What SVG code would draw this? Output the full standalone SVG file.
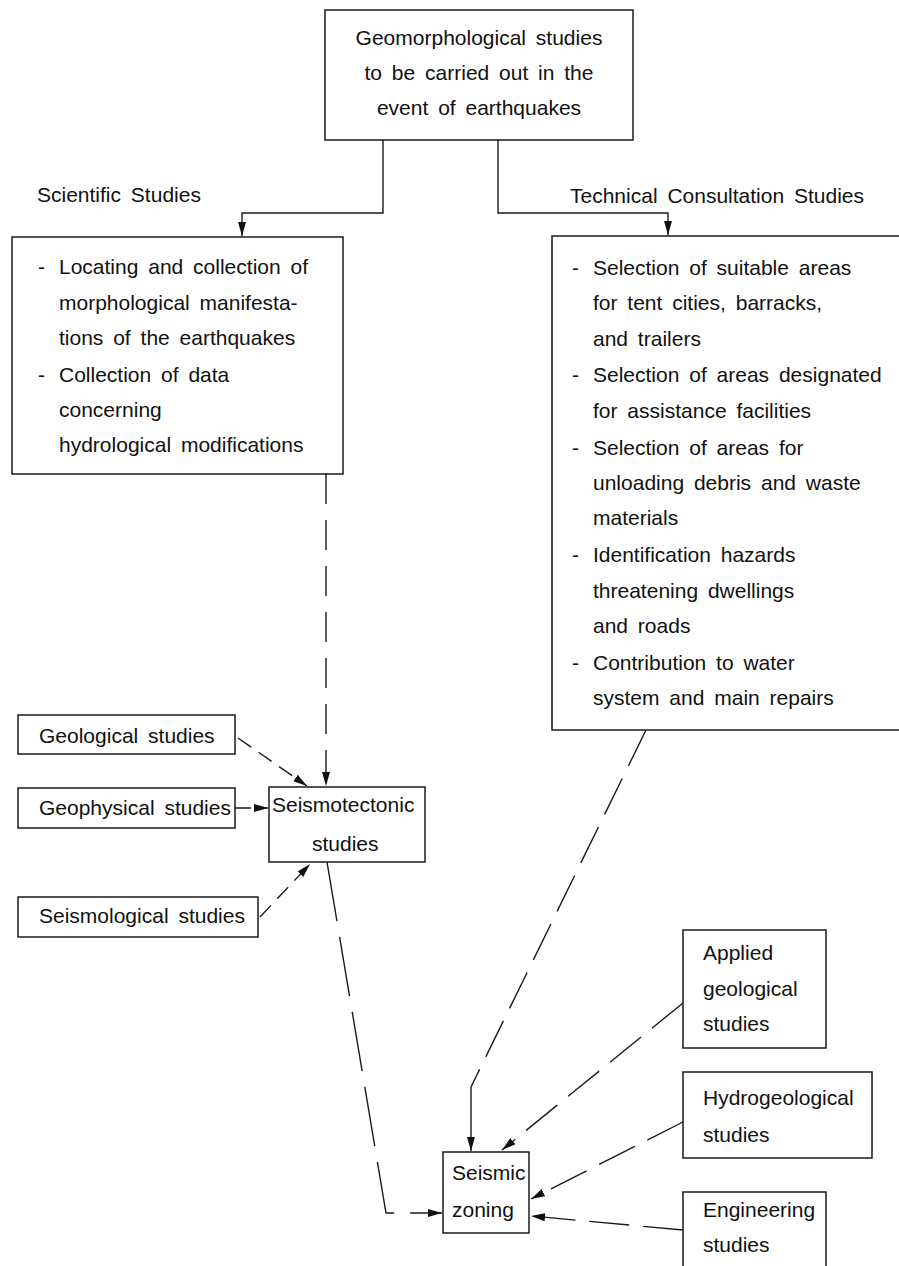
<svg xmlns="http://www.w3.org/2000/svg" width="899" height="1266" viewBox="0 0 899 1266">
<style>
  .box { fill: #fff; stroke: #1a1a1a; stroke-width: 1.5; }
  .t { font-family: "Liberation Sans", Arial, sans-serif; font-size: 21px; fill: #111; word-spacing: 4px; }
  .c { fill: none; stroke: #1a1a1a; stroke-width: 1.4; }
  .d1 { stroke-dasharray: 30 16; }
  .d2 { stroke-dasharray: 60 16; }
  .d3 { stroke-dasharray: 16 9; }
  .d4 { stroke-dasharray: 40 14; }
</style>
<defs>
  <marker id="arr" viewBox="0 0 14 8" refX="14" refY="4" markerWidth="14" markerHeight="8" markerUnits="userSpaceOnUse" orient="auto">
    <path d="M0,0 L14,4 L0,8 z" fill="#111" stroke="none"/>
  </marker>
</defs>
<rect width="899" height="1266" fill="#fff"/>

<g id="connectors">
  <polyline class="c" points="383,140 383,213 242,213 242,236" marker-end="url(#arr)"/>
  <polyline class="c" points="498,140 498,213 668,213 668,235" marker-end="url(#arr)"/>
  <line class="c d1" x1="326" y1="474" x2="326" y2="786" marker-end="url(#arr)"/>
  <line class="c d3" x1="238" y1="738" x2="307" y2="786" marker-end="url(#arr)"/>
  <line class="c d3" x1="235" y1="808" x2="268" y2="808" marker-end="url(#arr)"/>
  <line class="c d3" x1="260" y1="917" x2="310" y2="864" marker-end="url(#arr)"/>
  <polyline class="c d2" points="327,862 386,1213 442,1213" marker-end="url(#arr)"/>
  <polyline class="c d4" points="646,730 471,1087" />
  <line class="c" x1="471" y1="1087" x2="471" y2="1151" marker-end="url(#arr)"/>
  <line class="c d4" x1="683" y1="1003" x2="502" y2="1150" marker-end="url(#arr)"/>
  <line class="c d4" x1="683" y1="1122" x2="531" y2="1199" marker-end="url(#arr)"/>
  <line class="c d4" x1="683" y1="1230" x2="531" y2="1216" marker-end="url(#arr)"/>
</g>

<g id="label-scientific">
  <text class="t" x="37" y="202">Scientific Studies</text>
</g>
<g id="label-technical">
  <text class="t" x="570" y="203">Technical Consultation Studies</text>
</g>

<g id="top">
  <rect class="box" x="325" y="10" width="308" height="130"/>
  <text class="t" x="479" y="45" text-anchor="middle">Geomorphological studies</text>
  <text class="t" x="479" y="80" text-anchor="middle">to be carried out in the</text>
  <text class="t" x="479" y="115" text-anchor="middle">event of earthquakes</text>
</g>

<g id="scientific">
  <rect class="box" x="12" y="237" width="331" height="237"/>
  <text class="t" y="274"><tspan x="38">-</tspan><tspan x="59">Locating and collection of</tspan></text>
  <text class="t" x="59" y="310">morphological manifesta-</text>
  <text class="t" x="59" y="345">tions of the earthquakes</text>
  <text class="t" y="382"><tspan x="38">-</tspan><tspan x="59">Collection of data</tspan></text>
  <text class="t" x="59" y="417">concerning</text>
  <text class="t" x="59" y="452">hydrological modifications</text>
</g>

<g id="technical">
  <path d="M899,236 H552 V730 H899" fill="#fff" stroke="#1a1a1a" stroke-width="1.5"/>
  <text class="t" y="275"><tspan x="572">-</tspan><tspan x="593">Selection of suitable areas</tspan></text>
  <text class="t" x="593" y="310">for tent cities, barracks,</text>
  <text class="t" x="593" y="346">and trailers</text>
  <text class="t" y="382"><tspan x="572">-</tspan><tspan x="593">Selection of areas designated</tspan></text>
  <text class="t" x="593" y="418">for assistance facilities</text>
  <text class="t" y="455"><tspan x="572">-</tspan><tspan x="593">Selection of areas for</tspan></text>
  <text class="t" x="593" y="490">unloading debris and waste</text>
  <text class="t" x="593" y="525">materials</text>
  <text class="t" y="562"><tspan x="572">-</tspan><tspan x="593">Identification hazards</tspan></text>
  <text class="t" x="593" y="598">threatening dwellings</text>
  <text class="t" x="593" y="633">and roads</text>
  <text class="t" y="670"><tspan x="572">-</tspan><tspan x="593">Contribution to water</tspan></text>
  <text class="t" x="593" y="705">system and main repairs</text>
</g>

<g id="geological">
  <rect class="box" x="18" y="715" width="217" height="39"/>
  <text class="t" x="39" y="743">Geological studies</text>
</g>
<g id="geophysical">
  <rect class="box" x="18" y="788" width="217" height="40"/>
  <text class="t" x="39" y="815">Geophysical studies</text>
</g>
<g id="seismological">
  <rect class="box" x="18" y="897" width="240" height="40"/>
  <text class="t" x="39" y="923">Seismological studies</text>
</g>

<g id="seismotectonic">
  <rect class="box" x="269" y="787" width="156" height="75"/>
  <text class="t" x="272" y="812">Seismotectonic</text>
  <text class="t" x="312" y="851">studies</text>
</g>

<g id="seismic-zoning">
  <rect class="box" x="443" y="1152" width="86" height="81"/>
  <text class="t" x="452" y="1180">Seismic</text>
  <text class="t" x="452" y="1217">zoning</text>
</g>

<g id="applied">
  <rect class="box" x="683" y="930" width="143" height="118"/>
  <text class="t" x="703" y="960">Applied</text>
  <text class="t" x="703" y="996">geological</text>
  <text class="t" x="703" y="1031">studies</text>
</g>
<g id="hydrogeological">
  <rect class="box" x="683" y="1072" width="189" height="86"/>
  <text class="t" x="703" y="1105">Hydrogeological</text>
  <text class="t" x="703" y="1142">studies</text>
</g>
<g id="engineering">
  <path d="M683,1266 V1192 H826 V1266" fill="#fff" stroke="#1a1a1a" stroke-width="1.5"/>
  <text class="t" x="703" y="1217">Engineering</text>
  <text class="t" x="703" y="1252">studies</text>
</g>
</svg>
